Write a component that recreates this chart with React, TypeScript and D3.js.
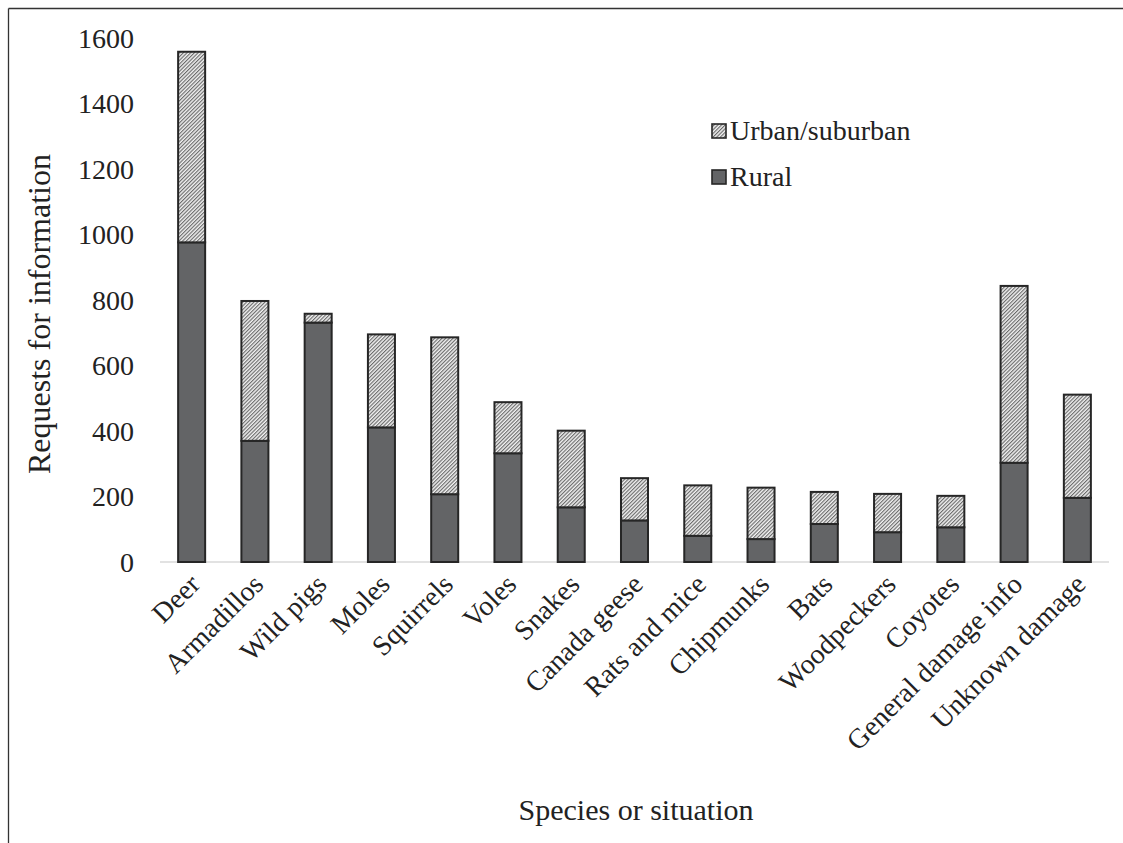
import React, { useEffect, useRef } from 'react';
import * as d3 from 'd3';

// values
const categories = [
  'Deer', 'Armadillos', 'Wild pigs', 'Moles', 'Squirrels', 'Voles', 'Snakes',
  'Canada geese', 'Rats and mice', 'Chipmunks', 'Bats', 'Woodpeckers',
  'Coyotes', 'General damage info', 'Unknown damage',
];
const rural = [976, 370, 731, 411, 207, 332, 167, 127, 80, 70, 116, 91, 106, 303, 196];
const urban = [582, 427, 27, 284, 479, 156, 234, 129, 154, 157, 98, 117, 96, 540, 315];
const yTicks = [0, 200, 400, 600, 800, 1000, 1200, 1400, 1600];

const FONT = '"Liberation Serif", "Times New Roman", serif';

export default function App() {
  const svgRef = useRef<SVGSVGElement>(null);

  useEffect(() => {
    if (!svgRef.current) return;
    d3.select(svgRef.current).selectAll('*').remove();

    // the svg sits at the page origin, so coordinates are page pixels
    const svg = d3.select(svgRef.current)
      .attr('width', 1123)
      .attr('height', 843);

    // hatch for urban/suburban
    const defs = svg.append('defs');
    const pat = defs.append('pattern')
      .attr('id', 'hatch')
      .attr('patternUnits', 'userSpaceOnUse')
      .attr('width', 2.6)
      .attr('height', 2.6)
      .attr('patternTransform', 'rotate(45)');
    pat.append('rect').attr('width', 2.6).attr('height', 2.6).attr('fill', '#f2f2f2');
    pat.append('line')
      .attr('x1', 0.6).attr('y1', 0).attr('x2', 0.6).attr('y2', 2.6)
      .attr('stroke', '#5e5e5e').attr('stroke-width', 1.05);

    const g = svg.append('g');

    // outer frame: only top and left edges are in the picture
    g.append('line')
      .attr('x1', 8.5).attr('y1', 8.5).attr('x2', 1123).attr('y2', 8.5)
      .attr('stroke', '#333').attr('stroke-width', 1.3);
    g.append('line')
      .attr('x1', 8.5).attr('y1', 8.5).attr('x2', 8.5).attr('y2', 843)
      .attr('stroke', '#333').attr('stroke-width', 1.3);

    const x = d3.scaleBand<string>()
      .domain(categories)
      .range([160, 1109])
      .paddingInner(0.573)
      .paddingOuter(0.2865);

    const y = d3.scaleLinear().domain([0, 1600]).range([562, 38]);

    // baseline
    g.append('line')
      .attr('x1', 160).attr('x2', 1109)
      .attr('y1', y(0)).attr('y2', y(0))
      .attr('stroke', '#d9d9d9').attr('stroke-width', 1.3);

    // y tick labels
    g.append('g')
      .selectAll('text')
      .data(yTicks)
      .enter()
      .append('text')
      .attr('x', 134)
      .attr('y', d => y(d))
      .attr('dy', '0.35em')
      .attr('text-anchor', 'end')
      .attr('font-family', FONT)
      .attr('font-size', 28)
      .attr('fill', '#222')
      .text(d => d);

    const rows = categories.map((c, i) => ({ cat: c, rural: rural[i], urban: urban[i] }));
    const stacked = d3.stack<any>().keys(['rural', 'urban'])(rows);
    const fills: Record<string, string> = { rural: '#636466', urban: 'url(#hatch)' };

    g.selectAll('.series')
      .data(stacked)
      .enter()
      .append('g')
      .attr('class', 'series')
      .attr('fill', d => fills[d.key])
      .selectAll('rect')
      .data(d => d)
      .enter()
      .append('rect')
      .attr('x', d => x(d.data.cat) || 0)
      .attr('y', d => y(d[1]))
      .attr('width', x.bandwidth())
      .attr('height', d => y(d[0]) - y(d[1]))
      .attr('stroke', '#262626')
      .attr('stroke-width', 2);

    // x tick labels, rotated
    g.append('g')
      .selectAll('text')
      .data(categories)
      .enter()
      .append('text')
      .attr('transform', d => `translate(${(x(d) || 0) + x.bandwidth() / 2 + 10},${586}) rotate(-45)`)
      .attr('text-anchor', 'end')
      .attr('font-family', FONT)
      .attr('font-size', 28)
      .attr('fill', '#222')
      .text(d => d);

    // axis titles
    g.append('text')
      .attr('transform', 'translate(50,314) rotate(-90)')
      .attr('text-anchor', 'middle')
      .attr('font-family', FONT)
      .attr('font-size', 32)
      .attr('fill', '#222')
      .text('Requests for information');

    g.append('text')
      .attr('x', 636)
      .attr('y', 820)
      .attr('text-anchor', 'middle')
      .attr('font-family', FONT)
      .attr('font-size', 30)
      .attr('fill', '#222')
      .text('Species or situation');

    // legend
    const legend = [
      { label: 'Urban/suburban', fill: 'url(#hatch)', y: 124 },
      { label: 'Rural', fill: '#636466', y: 170 },
    ];
    const lg = g.append('g').selectAll('g').data(legend).enter().append('g');
    lg.append('rect')
      .attr('x', 712).attr('y', d => d.y)
      .attr('width', 14).attr('height', 14)
      .attr('fill', d => d.fill)
      .attr('stroke', '#262626').attr('stroke-width', 1.6);
    lg.append('text')
      .attr('x', 730).attr('y', d => d.y + 6)
      .attr('dy', '0.35em')
      .attr('font-family', FONT)
      .attr('font-size', 28)
      .attr('fill', '#222')
      .text(d => d.label);
  }, []);

  return (
    <div>
      <svg
        ref={svgRef}
        style={{ position: 'absolute', left: 0, top: 0, display: 'block' }}
      ></svg>
    </div>
  );
}
